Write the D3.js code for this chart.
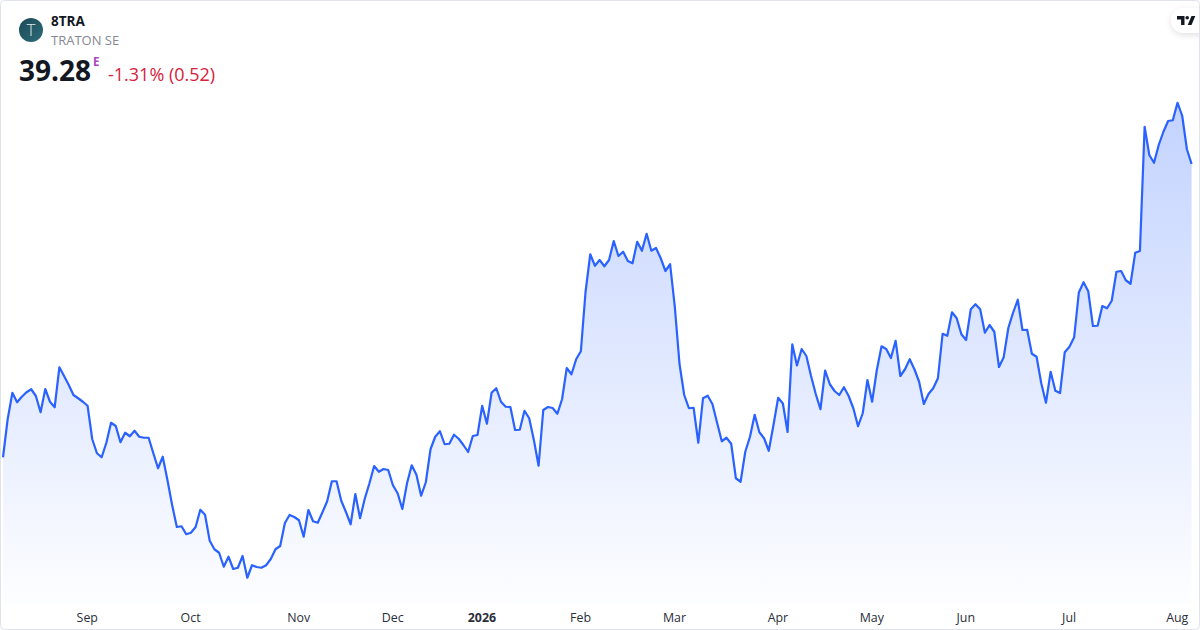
<!DOCTYPE html>
<html><head><meta charset="utf-8">
<script src="https://cdnjs.cloudflare.com/ajax/libs/d3/7.8.5/d3.min.js"></script>
<style>
html,body{margin:0;padding:0;background:#fff;overflow:hidden}
svg{display:block;font-family:"Open Sans",sans-serif}
</style></head><body>
<svg id="c" width="1200" height="630"></svg>
<script>
const symbol = "8TRA";
const companyName = "TRATON SE";
const lastPrice = "39.28";
const marketFlag = "E";
const changeText = "-1.31% (0.52)";
const tickIndices = [18,40,63,83,102,123,143,165,185,205,227,250];
const tickLabels = ["Sep","Oct","Nov","Dec","2026","Feb","Mar","Apr","May","Jun","Jul","Aug"];
const prices = [
27.55,29.08,30.13,29.75,29.97,30.15,30.27,30.00,29.35,30.28,29.77,29.55,31.15,30.80,30.44,30.04,29.91,29.77,29.61,28.27,
27.71,27.55,28.13,28.93,28.80,28.15,28.53,28.39,28.61,28.37,28.33,28.33,27.71,27.11,27.57,26.64,25.64,24.76,24.79,24.47,
24.53,24.76,25.45,25.25,24.21,23.87,23.73,23.17,23.57,23.08,23.13,23.60,22.73,23.23,23.16,23.13,23.23,23.48,23.87,24.00,
24.92,25.24,25.16,25.03,24.37,25.44,24.99,24.93,25.35,25.79,26.59,26.59,25.81,25.36,24.87,26.08,25.11,25.89,26.51,27.20,
26.97,27.08,27.04,26.43,26.11,25.48,26.51,27.23,26.85,26.01,26.55,27.87,28.37,28.59,28.07,28.09,28.45,28.29,28.04,27.76,
28.40,28.44,29.61,28.89,30.13,30.31,29.77,29.57,29.56,28.64,28.65,29.41,29.11,28.24,27.21,29.44,29.56,29.52,29.29,29.87,
31.12,30.87,31.47,31.79,34.17,35.67,35.21,35.44,35.19,35.44,36.20,35.60,35.77,35.40,35.31,36.17,35.81,36.49,35.81,35.92,
35.51,35.00,35.27,33.57,31.28,30.04,29.51,29.53,28.13,29.91,30.01,29.68,28.93,28.19,28.33,28.09,26.71,26.57,27.77,28.37,
29.25,28.55,28.31,27.81,28.84,29.93,29.70,28.56,32.07,31.22,31.88,31.60,30.80,30.08,29.47,31.02,30.47,30.20,30.04,30.35,
30.00,29.51,28.79,29.31,30.64,29.77,31.04,31.99,31.88,31.52,32.21,30.80,31.07,31.47,31.07,30.57,29.68,30.08,30.31,30.71,
32.49,32.41,33.35,33.11,32.47,32.24,33.47,33.67,33.47,32.53,32.84,32.57,31.16,31.55,32.73,33.33,33.85,32.64,32.65,31.69,
31.57,30.51,29.73,30.97,30.21,30.12,31.75,31.97,32.35,34.14,34.55,34.19,32.80,32.81,33.60,33.51,33.81,34.97,35.00,34.63,
34.49,35.73,35.80,40.77,39.64,39.33,40.04,40.57,41.00,41.03,41.73,41.21,39.87,39.28];

const svg = d3.select("#c");
const defs = svg.append("defs");

const x = d3.scaleLinear().domain([0, prices.length - 1]).range([3, 1191.6]);
const y = d3.scaleLinear().domain([20, 44]).range([646, 46]);
const floorY = 604;

const grad = defs.append("linearGradient").attr("id","fill")
  .attr("gradientUnits","userSpaceOnUse").attr("x1",0).attr("x2",0)
  .attr("y1",y(d3.max(prices))).attr("y2",floorY);
grad.append("stop").attr("offset",0).attr("stop-color","#2962FF").attr("stop-opacity",0.28);
grad.append("stop").attr("offset",1).attr("stop-color","#2962FF").attr("stop-opacity",0.01);

const logoGrad = defs.append("linearGradient").attr("id","logo")
  .attr("x1",0).attr("y1",0).attr("x2",1).attr("y2",1);
logoGrad.append("stop").attr("offset",0).attr("stop-color","#1d4a57");
logoGrad.append("stop").attr("offset",1).attr("stop-color","#2b6b78");

const shadow = defs.append("filter").attr("id","sh").attr("x","-30%").attr("y","-30%").attr("width","160%").attr("height","170%");
shadow.append("feDropShadow").attr("dx",0).attr("dy",2).attr("stdDeviation",3)
  .attr("flood-color","#000").attr("flood-opacity",0.12);

svg.append("path").datum(prices)
  .attr("fill","url(#fill)")
  .attr("d", d3.area().x((d,i)=>x(i)).y0(floorY).y1(d=>y(d)));
svg.append("path").datum(prices)
  .attr("fill","none").attr("stroke","#2962FF").attr("stroke-width",2.2)
  .attr("stroke-linejoin","round").attr("stroke-linecap","butt")
  .attr("d", d3.line().x((d,i)=>x(i)).y(d=>y(d)));

// time axis
const axis = d3.axisBottom(x).tickValues(tickIndices)
  .tickSize(0).tickPadding(0)
  .tickFormat((d,i)=>tickLabels[i]);
const ax = svg.append("g").attr("transform","translate(-0.8,613)").call(axis);
ax.select(".domain").remove();
ax.selectAll("text")
  .attr("font-family",'"Open Sans",sans-serif')
  .attr("font-size",12.4).attr("fill","#2a2e39")
  .attr("font-weight",(d,i)=>tickLabels[i]==="2026"?700:400);

// header
svg.append("circle").attr("cx",31).attr("cy",30).attr("r",12).attr("fill","url(#logo)");
svg.append("text").attr("x",31).attr("y",36).attr("text-anchor","middle")
  .attr("font-size",17).attr("fill","#dfe8ea").attr("font-weight",300).text("T");
svg.append("text").attr("x",51).attr("y",26).attr("font-size",13.5).attr("font-weight",700)
  .attr("fill","#131722").text(symbol);
svg.append("text").attr("x",51).attr("y",45).attr("font-size",13)
  .attr("fill","#868993").text(companyName);
svg.append("text").attr("x",19).attr("y",81).attr("font-size",28).attr("font-weight",700)
  .attr("fill","#131722").text(lastPrice);
svg.append("text").attr("x",93).attr("y",66).attr("font-size",11.5).attr("font-weight",700)
  .attr("fill","#AB47BC").text(marketFlag);
svg.append("text").attr("x",108).attr("y",81).attr("font-size",18)
  .attr("fill","#D5223D").text(changeText);

// attribution badge
svg.append("rect").attr("x",1171).attr("y",8).attr("width",50).attr("height",25).attr("rx",12.5)
  .attr("fill","#fff").attr("filter","url(#sh)");
const tv = svg.append("g").attr("fill","#131722");
tv.append("path").attr("d","M1177 16h7.5v9h-3.4v-5.4h-4.1z");
tv.append("circle").attr("cx",1187.2).attr("cy",17.8).attr("r",1.8);
tv.append("path").attr("d","M1191.5 16h3.8l-3.8 9h-3.8z");

// card frame
svg.append("rect").attr("x",0.5).attr("y",0.5).attr("width",1199).attr("height",629).attr("rx",4)
  .attr("fill","none").attr("stroke","#e0e3eb");
</script>
</body></html>
